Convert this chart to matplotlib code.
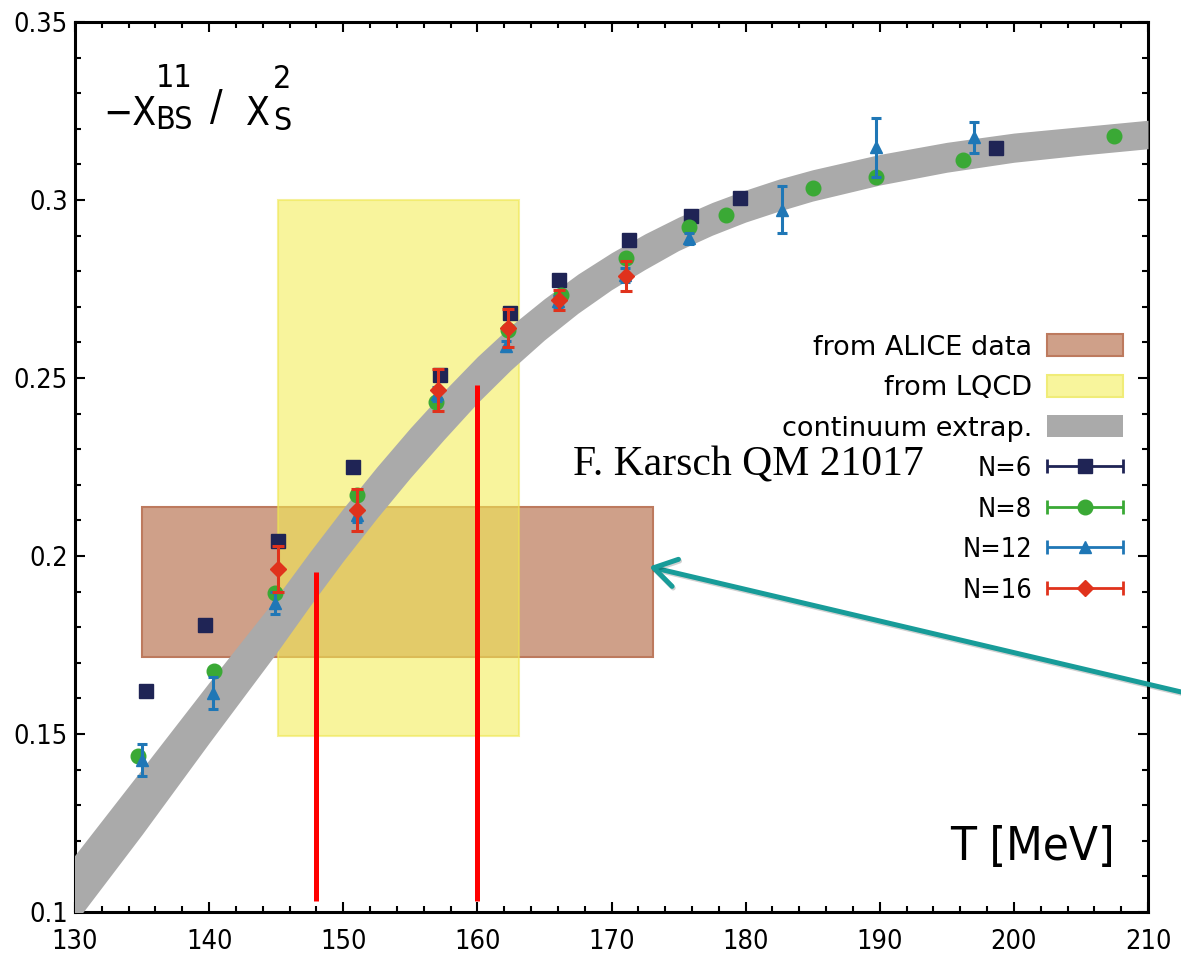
import numpy as np
import matplotlib.pyplot as plt
import matplotlib.patheffects as pe
from matplotlib import font_manager
from matplotlib.font_manager import FontProperties
from matplotlib.patches import Rectangle, Patch
from matplotlib.container import ErrorbarContainer
from matplotlib.legend_handler import HandlerErrorbar

# continuum extrapolation band: centre and half width
band_T = [128, 130, 135, 140, 145, 147.5, 150, 152.5, 155, 157.5, 160, 162.5, 165, 167.5,
          170, 172.5, 175, 177.5, 180, 182.5, 185, 190, 195, 200, 205, 210]
band_mid = [0.0965, 0.1065, 0.131, 0.156, 0.1805, 0.1935, 0.2060, 0.2178, 0.2290, 0.2395,
            0.2495, 0.2585, 0.2665, 0.2737, 0.2800, 0.2855, 0.2905, 0.2947, 0.2983, 0.3014,
            0.3041, 0.3085, 0.3120, 0.3147, 0.3166, 0.3184]
band_half = [0.0097, 0.0095, 0.0092, 0.0085, 0.0078, 0.0076, 0.0074, 0.0072, 0.0070, 0.0068,
             0.0065, 0.0062, 0.0058, 0.0055, 0.0052, 0.0050, 0.0047, 0.0046, 0.0045, 0.0045,
             0.0044, 0.0043, 0.0042, 0.0041, 0.0040, 0.0040]

# lattice results for the different temporal extents
T6 = [135.3, 139.7, 145.1, 150.7, 157.2, 162.4, 166.1, 171.3, 175.9, 179.6, 198.7]
v6 = [0.1621, 0.1805, 0.2042, 0.2251, 0.2508, 0.2682, 0.2775, 0.2889, 0.2955, 0.3005, 0.3145]

T8 = [134.7, 140.4, 144.9, 151.0, 156.9, 162.3, 166.2, 171.1, 175.8, 178.5, 185.0, 189.7, 196.2, 207.5]
v8 = [0.1438, 0.1677, 0.1895, 0.2171, 0.2433, 0.2635, 0.2734, 0.2836, 0.2925, 0.2958, 0.3033,
      0.3066, 0.3112, 0.3181]

T12 = [135.0, 140.3, 144.9, 151.0, 157.0, 162.1, 166.0, 171.0, 175.8, 182.7, 189.7, 197.0]
v12 = [0.1427, 0.1615, 0.1868, 0.2115, 0.2455, 0.2590, 0.2715, 0.2790, 0.2892, 0.2973, 0.3148, 0.3176]
e12 = [0.0044, 0.0045, 0.0032, 0.0020, 0.0020, 0.0015, 0.0015, 0.0020, 0.0015, 0.0065, 0.0082, 0.0044]

T16 = [145.1, 151.0, 157.1, 162.3, 166.1, 171.1]
v16 = [0.1964, 0.2129, 0.2466, 0.2640, 0.2719, 0.2787]
e16 = [0.0064, 0.0058, 0.0058, 0.0053, 0.0028, 0.0042]

# freeze-out ranges
alice_T = [135.0, 173.1]
alice_y = [0.1717, 0.2137]
lqcd_T = [145.1, 163.1]
lqcd_y = [0.1495, 0.300]

tc_T = [148, 160]
tc_low = 0.103
tc_high = [0.1955, 0.248]

xticks = [130, 140, 150, 160, 170, 180, 190, 200, 210]
xticklabels = ['130', '140', '150', '160', '170', '180', '190', '200', '210']
yticks = [0.1, 0.15, 0.2, 0.25, 0.3, 0.35]
yticklabels = ['0.1', '0.15', '0.2', '0.25', '0.3', '0.35']


def find_condensed():
    for f in font_manager.fontManager.ttflist:
        if f.name == 'DejaVu Sans' and 'Condensed' in f.fname \
                and 'Bold' not in f.fname and 'Oblique' not in f.fname:
            return f.fname
    return None


cond_file = find_condensed()


def cfont(size):
    if cond_file:
        return FontProperties(fname=cond_file, size=size)
    return FontProperties(family='DejaVu Sans', stretch='condensed', size=size)


W, H = 1181, 958
fig = plt.figure(figsize=(W / 100, H / 100), dpi=100)
ax = fig.add_axes([75 / W, 1 - 912 / H, (1148 - 75) / W, (912 - 22) / H])

ax.add_patch(Rectangle((alice_T[0], alice_y[0]), alice_T[1] - alice_T[0], alice_y[1] - alice_y[0],
                       facecolor='#cfa089', edgecolor='#bd7a5e', lw=1.5, zorder=1))
ax.add_patch(Rectangle((lqcd_T[0], lqcd_y[0]), lqcd_T[1] - lqcd_T[0], lqcd_y[1] - lqcd_y[0],
                       facecolor='#f3ed51', edgecolor='#eee650', lw=1.5, alpha=0.57, zorder=2))

band_mid = np.array(band_mid)
band_half = np.array(band_half)
ax.fill_between(band_T, band_mid - band_half, band_mid + band_half, color='#aaaaaa', lw=0, zorder=3)

c6, c8, c12, c16 = '#1f2455', '#3aa935', '#1f77b6', '#e0321c'
ax.plot(T6, v6, 's', color=c6, ms=10, zorder=4)
ax.plot(T8, v8, 'o', color=c8, ms=10.5, zorder=5)
ax.errorbar(T12, v12, yerr=e12, fmt='^', color=c12, ms=9, elinewidth=2.2, capsize=3.8,
            capthick=2.2, zorder=6)
ax.errorbar(T16, v16, yerr=e16, fmt='D', color=c16, ms=8.5, elinewidth=2.2, capsize=4.2,
            capthick=2.2, zorder=7)

ax.vlines(tc_T, tc_low, tc_high, color='#ff0000', lw=3.6, zorder=8)

ann = ax.annotate('', xy=(172.8, 0.197), xytext=(214.5, 0.1600), annotation_clip=False,
                  arrowprops=dict(arrowstyle='->, head_length=0.8, head_width=0.5',
                                  color='#189c99', lw=3.6, shrinkA=0, shrinkB=0,
                                  mutation_scale=20), zorder=9)
ann.arrow_patch.set_path_effects([pe.SimpleLineShadow(offset=(0.8, -1.2), alpha=0.18), pe.Normal()])

ax.set_xlim(130, 210)
ax.set_ylim(0.1, 0.35)
ax.set_xticks(xticks, labels=xticklabels)
ax.set_yticks(yticks, labels=yticklabels)
ax.set_xticks(np.arange(130, 211, 2), minor=True)
ax.set_yticks(np.arange(0.1, 0.351, 0.01), minor=True)
ax.tick_params(which='both', direction='in', top=True, right=True, width=1.5)
ax.tick_params(which='major', length=7.5)
ax.tick_params(which='minor', length=4.5)
ax.tick_params(axis='x', pad=12)
ax.tick_params(axis='y', pad=5)
for lab in ax.get_xticklabels() + ax.get_yticklabels():
    lab.set_fontproperties(cfont(19.5))
for sp in ax.spines.values():
    sp.set_linewidth(2.2)

# legend proxies
h_alice = Patch(facecolor='#cfa089', edgecolor='#bd7a5e', lw=1.5)
h_lqcd = Patch(facecolor='#f8f59c', edgecolor='#f0ec78', lw=1.5)
h_band = Patch(facecolor='#aaaaaa', edgecolor='none')
proxies = []
for col, mk, ms in [(c6, 's', 10), (c8, 'o', 10.5), (c12, '^', 8), (c16, 'D', 8)]:
    proxies.append(ax.errorbar([np.nan], [np.nan], xerr=[1.0], fmt=mk, color=col, ms=ms,
                               elinewidth=2, capsize=5, capthick=2))
labels = ['from ALICE data', 'from LQCD', 'continuum extrap.', 'N=6', 'N=8', 'N=12', 'N=16']
leg = ax.legend([h_alice, h_lqcd, h_band] + proxies, labels, loc='upper right',
                bbox_to_anchor=(0.9767, 0.649), frameon=False, markerfirst=False,
                borderpad=0, borderaxespad=0, handlelength=2.8, handleheight=0.85,
                handletextpad=0.55, labelspacing=0.53, fontsize=19.5, numpoints=1,
                handler_map={ErrorbarContainer: HandlerErrorbar(xerr_size=1.4)})
for t in leg.get_texts()[3:]:
    t.set_fontproperties(cfont(19.5))


def ftext(px, py, s, size, **kw):
    fig.text(px / W, 1 - py / H, s, fontproperties=cfont(size), ha='left', va='baseline', **kw)


# observable label
ftext(103, 125, '\u2212X', 28)
ftext(156, 87, '11', 23)
ftext(155, 129, 'BS', 23)
ftext(210, 120, '/', 30)
ftext(246, 125, 'X', 28)
ftext(273, 88, '2', 23)
ftext(273, 130, 'S', 23)

ftext(950, 860, 'T [MeV]', 34)

fig.text(573 / W, 1 - 476 / H, 'F. Karsch QM 21017', family='Liberation Serif', fontsize=30,
         ha='left', va='baseline')

fig.savefig('out.png', dpi=100)
